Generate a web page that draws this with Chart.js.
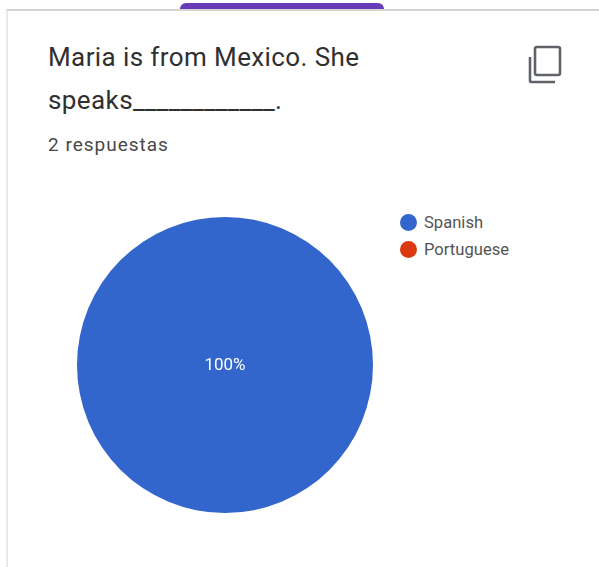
<!DOCTYPE html>
<html>
<head>
<meta charset="utf-8">
<title>Maria is from Mexico</title>
<script src="https://cdn.jsdelivr.net/npm/chart.js@4/dist/chart.umd.min.js"></script>
<style>
  html, body { margin: 0; padding: 0; background: #fff; }
  body { width: 599px; height: 567px; overflow: hidden; position: relative; font-family: Roboto, sans-serif; }
  .card { position: absolute; left: 6px; top: 9px; width: 620px; height: 600px; border-left: 2px solid #e8e8e8; border-top: 2px solid #d4d4d4; }
  .tab { position: absolute; left: 180px; top: 3px; width: 204px; height: 6px; background: #673ab7; border-radius: 6px 6px 0 0; }
  .title { position: absolute; left: 48px; top: 36px; font-size: 26px; line-height: 43px; letter-spacing: 0.4px; color: #303030; white-space: nowrap; }
  .title span { letter-spacing: 0.1px; }
  .count { position: absolute; left: 48px; top: 133px; font-size: 19px; line-height: 24px; letter-spacing: 1px; color: #484848; }
  .copy { position: absolute; left: 528px; top: 45px; }
  #pie { position: absolute; left: 77px; top: 217px; }
  .legend { position: absolute; left: 400px; top: 209px; font-size: 16.6px; color: #555; }
  .legend div { height: 27px; line-height: 27px; white-space: nowrap; }
  .legend i { display: inline-block; width: 17px; height: 17px; border-radius: 50%; margin-right: 7px; vertical-align: -3px; }
</style>
</head>
<body>
<div class="tab"></div>
<div class="card"></div>
<div class="title" id="title"></div>
<div class="count" id="count"></div>
<svg class="copy" width="34" height="40" viewBox="0 0 34 40" fill="none" stroke="#5f6368" stroke-width="2.6">
  <rect x="7" y="2" width="25" height="28" rx="2"></rect>
  <path d="M2 12 V36 a1 1 0 0 0 1 1 H27"></path>
</svg>
<canvas id="pie" width="296" height="296"></canvas>
<div class="legend" id="legend"></div>
<script>
const titleLines = ["Maria is from Mexico. She", "speaks____________."];
const responseCount = "2 respuestas";
const categories = ["Spanish", "Portuguese"];
const answers = [2, 0];
const sliceColors = ["#3366cc", "#dc3912"];

// the fill-in blank gets its own span so it can be spaced separately
document.getElementById("title").innerHTML = titleLines
  .map((line) => line.replace(/_+/, (blank) => "<span>" + blank + "</span>"))
  .join("<br>");
document.getElementById("count").textContent = responseCount;

// legend sits to the right of the pie
const legendBox = document.getElementById("legend");
categories.forEach(function (name, i) {
  const row = document.createElement("div");
  const dot = document.createElement("i");
  dot.style.background = sliceColors[i];
  row.appendChild(dot);
  row.appendChild(document.createTextNode(name));
  legendBox.appendChild(row);
});

// percent label in the middle of each non-empty slice
const percentLabels = {
  id: "percentLabels",
  afterDatasetsDraw(chart) {
    const ctx = chart.ctx;
    const total = answers.reduce((a, b) => a + b, 0);
    const arcs = chart.getDatasetMeta(0).data;
    ctx.save();
    ctx.fillStyle = "#fff";
    ctx.font = "17px Roboto";
    ctx.textAlign = "center";
    ctx.textBaseline = "middle";
    arcs.forEach(function (arc, i) {
      if (answers[i] === 0) return;
      const share = answers[i] / total;
      // a full circle has no centroid on its ring, label goes at the centre
      const pos = share === 1 ? { x: arc.x, y: arc.y + 1 } : arc.tooltipPosition();
      ctx.fillText(Math.round(share * 100) + "%", pos.x, pos.y);
    });
    ctx.restore();
  },
};

new Chart(document.getElementById("pie"), {
  type: "pie",
  data: {
    labels: categories,
    datasets: [{ data: answers, backgroundColor: sliceColors, borderWidth: 0 }],
  },
  options: {
    responsive: false,
    animation: false,
    plugins: { legend: { display: false }, tooltip: { enabled: false } },
  },
  plugins: [percentLabels],
});
</script>
</body>
</html>
